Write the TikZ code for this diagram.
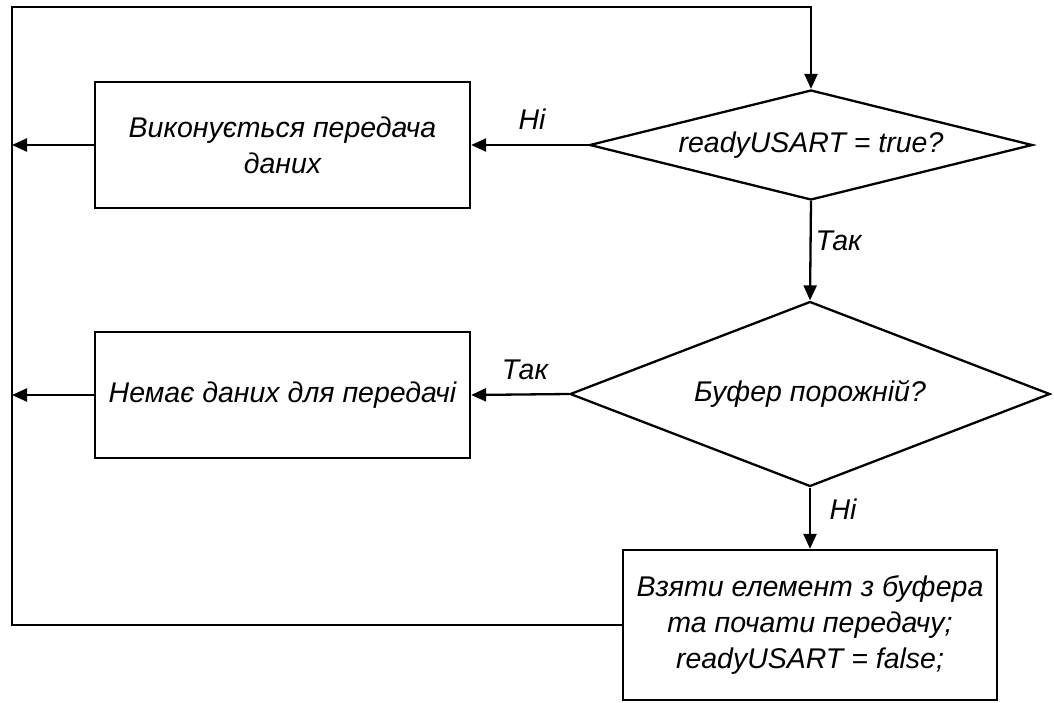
\documentclass[tikz,border=0pt]{standalone}
\usepackage{fontspec}
\setmainfont{Liberation Sans}
\usetikzlibrary{shapes.geometric,arrows.meta}
\begin{document}
\begin{tikzpicture}[x=1pt,y=-1pt,
  txt/.style={font=\fontsize{28.5}{36}\selectfont\itshape},
  wire/.style={line width=2.3pt},
  flow/.style={wire,-{Triangle[length=15pt,width=13pt]}},
  block/.style={draw,line width=2.3pt,inner sep=0pt,align=center,txt},
  decision/.style={draw,diamond,line width=2.3pt,inner sep=0pt},
  lbl/.style={txt,inner sep=0pt}]
\useasboundingbox (0,0) rectangle (1054,702);

% decisions: outline first, question text set on top
\node[decision,minimum width=443pt,minimum height=110pt] (d1) at (811,145) {};
\node[lbl] (d1t) at (d1.center) {readyUSART = true?};
\node[decision,minimum width=480pt,minimum height=185pt] (d2) at (810,394) {};
\node[lbl] (d2t) at (d2.center) {Буфер порожній?};

% actions
\node[block,minimum width=375pt,minimum height=126pt] (b1) at (282.5,145) {Виконується передача\\даних};
\node[block,minimum width=375pt,minimum height=126pt] (b2) at (282.5,395) {Немає даних для передачі};
\node[block,minimum width=374pt,minimum height=150pt] (b3) at (810,625) {Взяти елемент з буфера\\та почати передачу;\\readyUSART = false;};

% return bus on the left
\coordinate (tl) at (12,7);
\coordinate (bl) at (12,625);
\coordinate (j1) at (12,145);
\coordinate (j2) at (12,395);

\draw[flow] (d1.west) -- (b1.east) node[lbl,pos=0.48,yshift=26pt] {Ні};
\draw[flow] (d1.south) -- (d2.north) node[lbl,pos=0.4,xshift=28pt] {Так};
\draw[flow] (d2.west) -- (b2.east) node[lbl,pos=0.45,yshift=25pt] {Так};
\draw[flow] (d2.south) -- (b3.north) node[lbl,pos=0.35,xshift=33pt] {Ні};

\draw[flow] (b1.west) -- (j1);
\draw[flow] (b2.west) -- (j2);
\draw[flow] (b3.west) -- (bl) -- (tl) -- (tl -| d1.north) -- (d1.north);
\end{tikzpicture}
\end{document}
